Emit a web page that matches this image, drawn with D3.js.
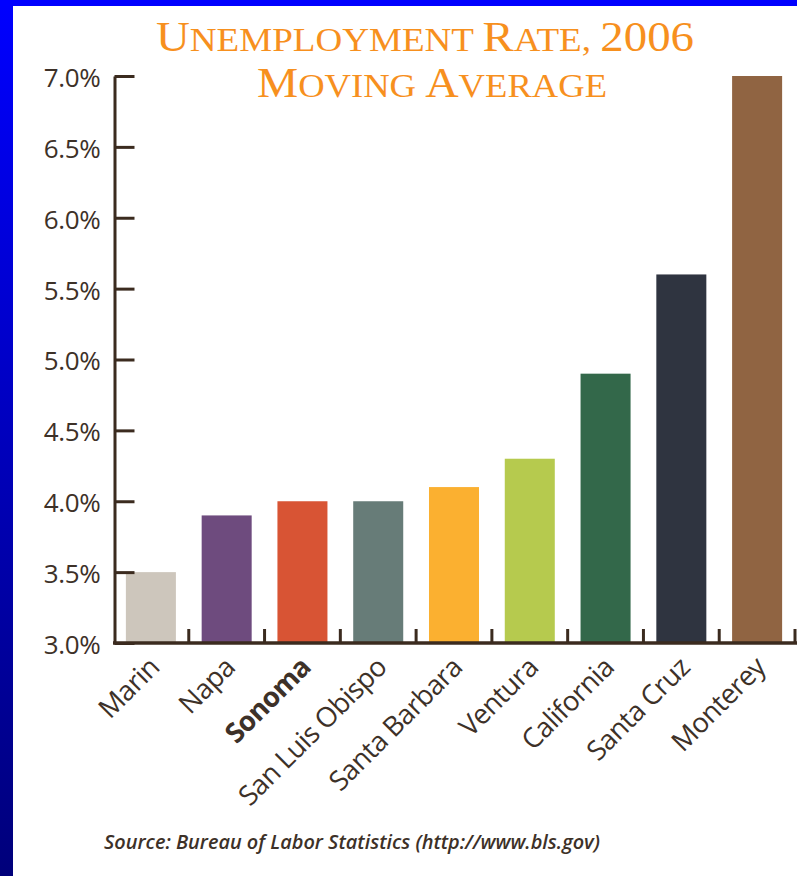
<!DOCTYPE html>
<html>
<head>
<meta charset="utf-8">
<script src="https://cdn.jsdelivr.net/npm/d3@7"></script>
<style>
  html, body { margin: 0; padding: 0; background: #fff; }
  svg { display: block; }
</style>
</head>
<body>
<svg id="chart" width="797" height="876"></svg>
<script>
const categories = ["Marin", "Napa", "Sonoma", "San Luis Obispo", "Santa Barbara", "Ventura", "California", "Santa Cruz", "Monterey"];
const rates = [3.5, 3.9, 4.0, 4.0, 4.1, 4.3, 4.9, 5.6, 7.0];
const barColors = ["#cdc6bc", "#6e4b7e", "#d85434", "#677c78", "#fbb030", "#b6ca4e", "#33684a", "#2f3440", "#906442"];
const yTicks = [3.0, 3.5, 4.0, 4.5, 5.0, 5.5, 6.0, 6.5, 7.0];
const titleLines = ["Unemployment Rate, 2006", "Moving Average"];
const sourceText = "Source: Bureau of Labor Statistics (http://www.bls.gov)";
const boldCategory = "Sonoma";

const W = 797, H = 876;
const svg = d3.select("#chart");
const ink = "#3b2b1f";
const textInk = "#3d3128";

// frame
const defs = svg.append("defs");
const grad = defs.append("linearGradient").attr("id", "lg").attr("x1", 0).attr("y1", 0).attr("x2", 0).attr("y2", 1);
grad.append("stop").attr("offset", 0).attr("stop-color", "#0000ff");
grad.append("stop").attr("offset", 1).attr("stop-color", "#00007a");
svg.append("rect").attr("x", 0).attr("y", 0).attr("width", W).attr("height", H).attr("fill", "url(#lg)");
svg.append("rect").attr("x", 0).attr("y", 0).attr("width", W).attr("height", 6).attr("fill", "#0000ff");
svg.append("rect").attr("x", 13).attr("y", 6).attr("width", W - 13).attr("height", H - 6).attr("fill", "#ffffff");

// scales
const x = d3.scaleBand().domain(categories).range([113, 795]).paddingInner(0.34).paddingOuter(0.17);
const y = d3.scaleLinear().domain([3.0, 7.0]).range([643, 76]);

// bars
svg.append("g").selectAll("rect").data(categories).join("rect")
  .attr("x", d => x(d))
  .attr("width", x.bandwidth())
  .attr("y", (d, i) => y(rates[i]))
  .attr("height", (d, i) => y(3.0) - y(rates[i]))
  .attr("fill", (d, i) => barColors[i]);

// y axis
const yAxis = svg.append("g").attr("transform", "translate(114.5,0)")
  .call(d3.axisLeft(y).tickValues(yTicks).tickSizeInner(-20).tickSizeOuter(0).tickPadding(14)
    .tickFormat(d => d3.format(".1f")(d) + "%"));
yAxis.select(".domain").attr("stroke", ink).attr("stroke-width", 3);
yAxis.selectAll(".tick line").attr("stroke", ink).attr("stroke-width", 3);
yAxis.selectAll(".tick text").attr("fill", textInk).attr("font-family", "Open Sans, sans-serif")
  .attr("font-size", 26).attr("font-weight", 500).attr("dy", "0.4em").attr("letter-spacing", "-0.3");

// baseline
svg.append("line").attr("x1", 113).attr("x2", W).attr("y1", y(3.0)).attr("y2", y(3.0))
  .attr("stroke", ink).attr("stroke-width", 3.5);

// small upward ticks at band boundaries
const gap = x.step() - x.bandwidth();
svg.append("g").selectAll("line").data(categories).join("line")
  .attr("x1", d => x(d) + x.bandwidth() + gap / 2)
  .attr("x2", d => x(d) + x.bandwidth() + gap / 2)
  .attr("y1", y(3.0)).attr("y2", y(3.0) - 14)
  .attr("stroke", ink).attr("stroke-width", 3);

// x labels
const xAxis = svg.append("g").attr("transform", `translate(0,${y(3.0)})`)
  .call(d3.axisBottom(x).tickSize(0).tickPadding(0));
xAxis.select(".domain").remove();
xAxis.selectAll(".tick text")
  .attr("fill", textInk).attr("font-family", "Open Sans, sans-serif").attr("font-size", 27.5)
  .attr("letter-spacing", "-0.6")
  .attr("font-weight", d => d === boldCategory ? "bold" : 500)
  .attr("text-anchor", "end")
  .attr("transform", "translate(10,26) rotate(-45)")
  .attr("dy", 0).attr("y", 0).attr("x", 0);

// title (small caps)
const title = svg.append("g");
const titleCenters = [425, 432];
const titleBaselines = [51, 97];
const titleWidths = [538, 350];
titleLines.forEach((line, li) => {
  const t = title.append("text")
    .attr("x", titleCenters[li]).attr("y", titleBaselines[li])
    .attr("text-anchor", "middle")
    .attr("fill", "#f7901e")
    .attr("font-family", "Liberation Serif, serif")
    .attr("textLength", titleWidths[li]).attr("lengthAdjust", "spacingAndGlyphs");
  line.split(" ").forEach((word, wi) => {
    if (wi > 0) t.append("tspan").attr("font-size", 34).text(" ");
    const first = word[0];
    const rest = word.slice(1);
    if (/[A-Za-z]/.test(first) && first === first.toUpperCase() && !/[0-9]/.test(word)) {
      t.append("tspan").attr("font-size", 43).text(first);
      if (rest) t.append("tspan").attr("font-size", 34).text(rest.toUpperCase());
    } else {
      t.append("tspan").attr("font-size", 43).text(word);
    }
  });
});

// source
svg.append("text").attr("x", 104).attr("y", 849)
  .attr("fill", textInk).attr("font-family", "Open Sans, sans-serif")
  .attr("font-style", "italic").attr("font-weight", 600).attr("font-size", 20.5)
  .attr("textLength", 496).attr("lengthAdjust", "spacingAndGlyphs")
  .text(sourceText);
</script>
</body>
</html>
